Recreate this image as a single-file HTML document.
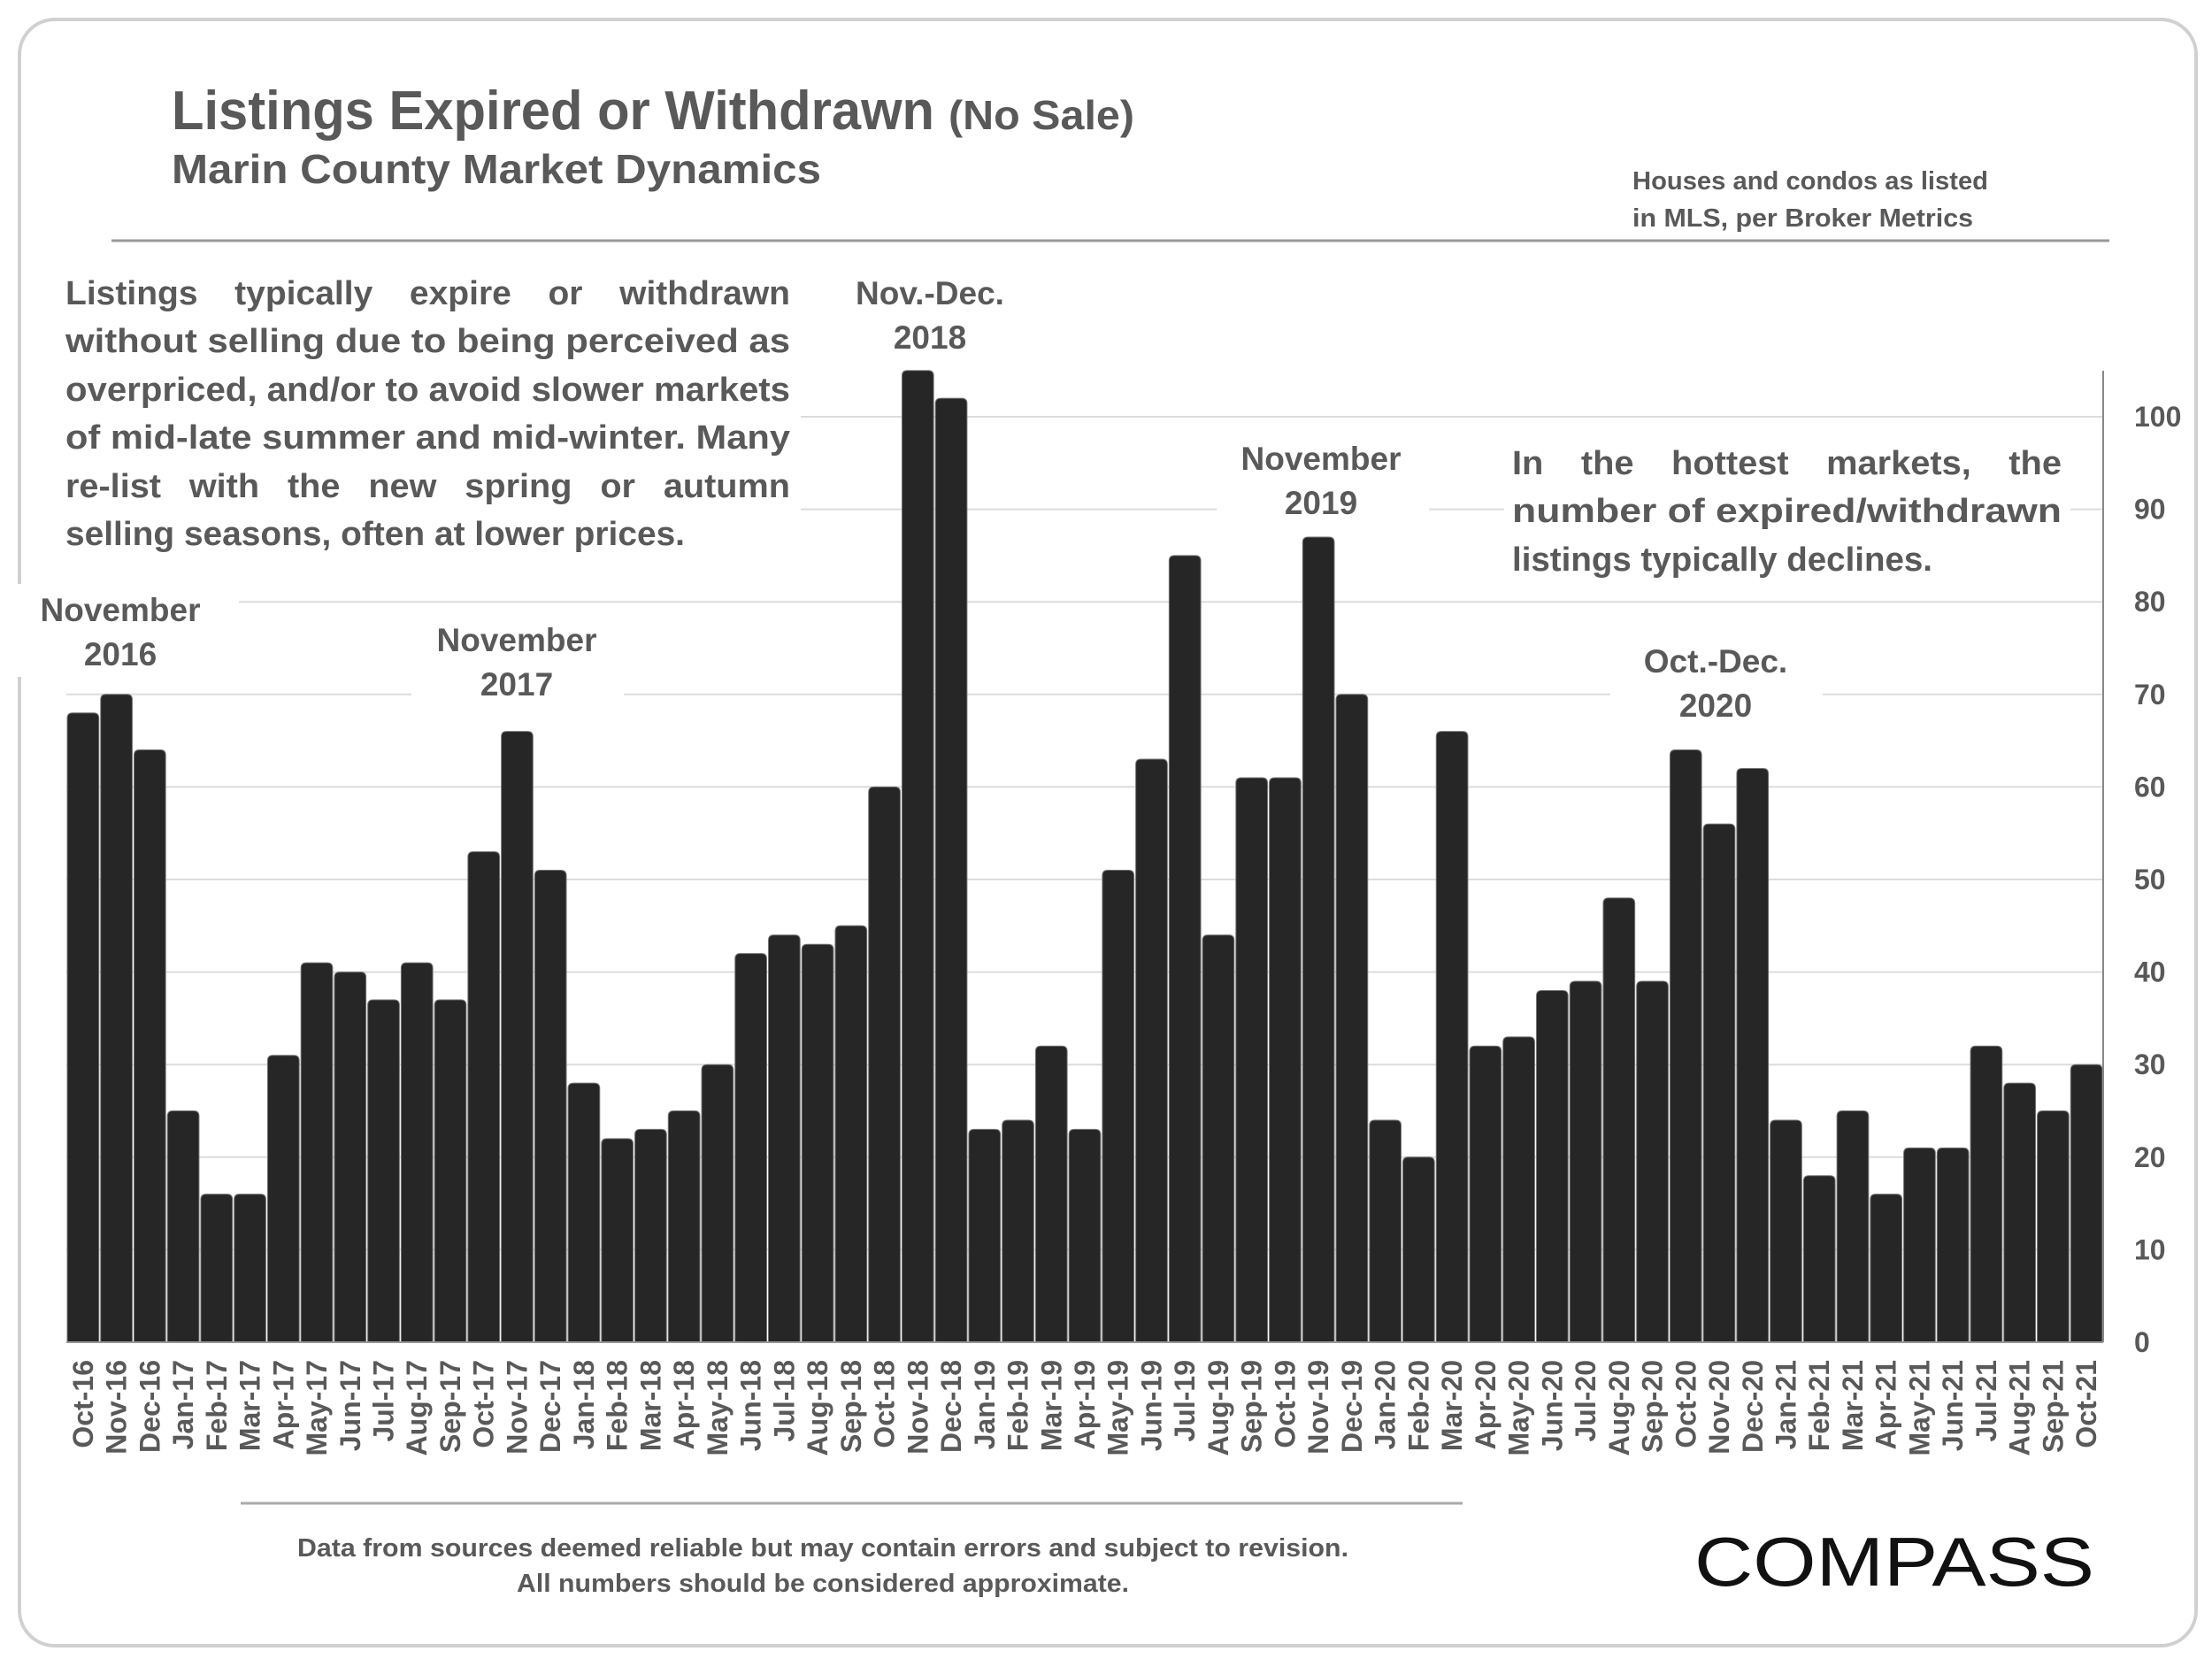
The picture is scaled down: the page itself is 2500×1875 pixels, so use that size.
<!DOCTYPE html>
<html><head><meta charset="utf-8"><style>
html,body{margin:0;padding:0;background:#fff;}
svg{display:block;font-family:"Liberation Sans",sans-serif;}
</style></head><body>
<svg id="chart" width="2500" height="1875" viewBox="0 0 2500 1875" xmlns="http://www.w3.org/2000/svg">
<rect x="22" y="22" width="2460" height="1838" rx="40" fill="#fff" stroke="#d0d0d0" stroke-width="4"/>
<g id="grid"></g>
<g id="bars"></g>
<line x1="2377" y1="419" x2="2377" y2="1517" stroke="#888" stroke-width="2"/>
<line x1="75" y1="1517" x2="2377" y2="1517" stroke="#999" stroke-width="2"/>
<g id="yticks" fill="#595959" font-weight="bold" font-size="32"></g>
<g id="xticks" fill="#595959" font-weight="bold" font-size="32"></g>

<g fill="#595959" font-weight="bold">
<text x="194" y="146" font-size="62" textLength="862" lengthAdjust="spacingAndGlyphs">Listings Expired or Withdrawn</text>
<text x="1072" y="146" font-size="46" textLength="210" lengthAdjust="spacingAndGlyphs">(No Sale)</text>
<text x="194" y="207" font-size="46" textLength="734" lengthAdjust="spacingAndGlyphs">Marin County Market Dynamics</text>
<text x="1845" y="214" font-size="29" textLength="402" lengthAdjust="spacingAndGlyphs">Houses and condos as listed</text>
<text x="1845" y="256" font-size="29" textLength="385" lengthAdjust="spacingAndGlyphs">in MLS, per Broker Metrics</text>
</g>
<line x1="126" y1="272" x2="2384" y2="272" stroke="#999" stroke-width="3"/>

<g fill="#595959" font-weight="bold" font-size="38">
<rect x="60" y="300" width="845" height="335" fill="#fff"/>
<text x="74" y="344" textLength="819" lengthAdjust="spacingAndGlyphs" word-spacing="30">Listings typically expire or withdrawn</text>
<text x="74" y="398" textLength="819" lengthAdjust="spacingAndGlyphs">without selling due to being perceived as</text>
<text x="74" y="453" textLength="819" lengthAdjust="spacingAndGlyphs">overpriced, and/or to avoid slower markets</text>
<text x="74" y="507" textLength="819" lengthAdjust="spacingAndGlyphs">of mid-late summer and mid-winter. Many</text>
<text x="74" y="562" textLength="819" lengthAdjust="spacingAndGlyphs" word-spacing="20">re-list with the new spring or autumn</text>
<text x="74" y="616" textLength="700" lengthAdjust="spacingAndGlyphs">selling seasons, often at lower prices.</text>
</g>
<g fill="#595959" font-weight="bold" font-size="38">
<rect x="1700" y="495" width="640" height="165" fill="#fff"/>
<text x="1709" y="536" textLength="621" lengthAdjust="spacingAndGlyphs" word-spacing="30">In the hottest markets, the</text>
<text x="1709" y="590" textLength="621" lengthAdjust="spacingAndGlyphs">number of expired/withdrawn</text>
<text x="1709" y="645" textLength="475" lengthAdjust="spacingAndGlyphs">listings typically declines.</text>
</g>
<g fill="#595959" font-weight="bold" font-size="37" text-anchor="middle">
<g><rect x="20" y="660" width="250" height="105" fill="#fff"/><text x="136" y="702">November</text><text x="136" y="752">2016</text></g>
<g><rect x="465" y="695" width="240" height="105" fill="#fff"/><text x="584" y="736">November</text><text x="584" y="786">2017</text></g>
<g><text x="1051" y="344">Nov.-Dec.</text><text x="1051" y="394">2018</text></g>
<g><rect x="1375" y="490" width="240" height="105" fill="#fff"/><text x="1493" y="531">November</text><text x="1493" y="581">2019</text></g>
<g><rect x="1820" y="720" width="240" height="105" fill="#fff"/><text x="1939" y="760">Oct.-Dec.</text><text x="1939" y="810">2020</text></g>
</g>
<line x1="272" y1="1699" x2="1653" y2="1699" stroke="#aaa" stroke-width="3"/>
<g fill="#595959" font-weight="bold" font-size="29" text-anchor="middle">
<text x="930" y="1759" textLength="1188" lengthAdjust="spacingAndGlyphs">Data from sources deemed reliable but may contain errors and subject to revision.</text>
<text x="930" y="1799" textLength="692" lengthAdjust="spacingAndGlyphs">All numbers should be considered approximate.</text>
</g>
<text x="1915" y="1792" font-size="78" fill="#111" textLength="452" lengthAdjust="spacingAndGlyphs">COMPASS</text>
</svg>
<script>
const months = ["Oct-16","Nov-16","Dec-16","Jan-17","Feb-17","Mar-17","Apr-17","May-17","Jun-17","Jul-17","Aug-17","Sep-17","Oct-17","Nov-17","Dec-17","Jan-18","Feb-18","Mar-18","Apr-18","May-18","Jun-18","Jul-18","Aug-18","Sep-18","Oct-18","Nov-18","Dec-18","Jan-19","Feb-19","Mar-19","Apr-19","May-19","Jun-19","Jul-19","Aug-19","Sep-19","Oct-19","Nov-19","Dec-19","Jan-20","Feb-20","Mar-20","Apr-20","May-20","Jun-20","Jul-20","Aug-20","Sep-20","Oct-20","Nov-20","Dec-20","Jan-21","Feb-21","Mar-21","Apr-21","May-21","Jun-21","Jul-21","Aug-21","Sep-21","Oct-21"];
const listings = [68,70,64,25,16,16,31,41,40,37,41,37,53,66,51,28,22,23,25,30,42,44,43,45,60,105,102,23,24,32,23,51,63,85,44,61,61,87,70,24,20,66,32,33,38,39,48,39,64,56,62,24,18,25,16,21,21,32,28,25,30];
const yTicks = [0,10,20,30,40,50,60,70,80,90,100];

const NS="http://www.w3.org/2000/svg";
const X0=75, X1=2377, Y0=1517, Y100=471;
const slot=(X1-X0)/months.length;
const xPos=i=>X0+i*slot;
const yPos=v=>Y0-(Y0-Y100)*v/100;
const grid=document.getElementById('grid'), bars=document.getElementById('bars');
const yt=document.getElementById('yticks'), xt=document.getElementById('xticks');
yTicks.forEach(t=>{
  if(t>0){const l=document.createElementNS(NS,'line');
  l.setAttribute('x1',X0);l.setAttribute('x2',X1);l.setAttribute('y1',yPos(t));l.setAttribute('y2',yPos(t));
  l.setAttribute('stroke','#dcdcdc');l.setAttribute('stroke-width','2');
  
  
  grid.appendChild(l);}
  const tx=document.createElementNS(NS,'text');
  tx.setAttribute('x',2412);tx.setAttribute('y',yPos(t)+11);tx.textContent=t;
  
  
  yt.appendChild(tx);
});
listings.forEach((v,i)=>{
  const x=xPos(i)+1, w=slot-2, y=yPos(v), r=6;
  const p=document.createElementNS(NS,'path');
  p.setAttribute('d',`M${x},${Y0} L${x},${y+r} Q${x},${y} ${x+r},${y} L${x+w-r},${y} Q${x+w},${y} ${x+w},${y+r} L${x+w},${Y0} Z`);
  p.setAttribute('fill','#262626');p.setAttribute('stroke','#777');p.setAttribute('stroke-width','1');
  
  
  bars.appendChild(p);
  const t=document.createElementNS(NS,'text');
  const cx=xPos(i)+slot/2+11;
  t.setAttribute('x',cx);t.setAttribute('y',1537);
  t.setAttribute('text-anchor','end');
  t.setAttribute('transform',`rotate(-90 ${cx} 1537)`);
  t.textContent=months[i];
  
  
  xt.appendChild(t);
});
</script>
</body></html>
